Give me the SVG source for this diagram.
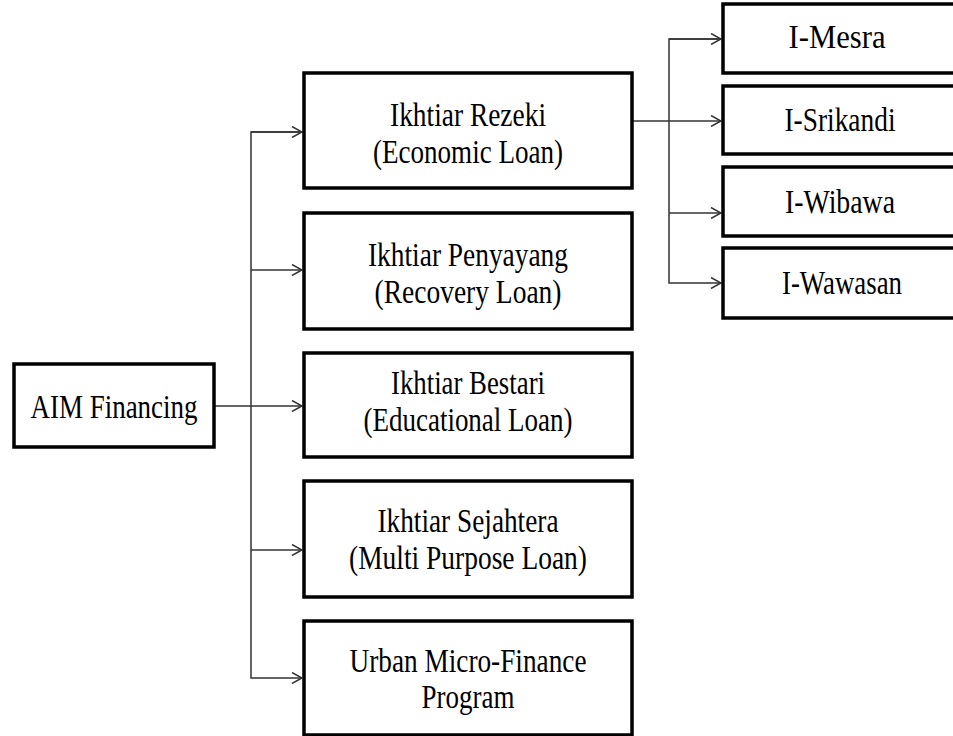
<svg xmlns="http://www.w3.org/2000/svg" width="953" height="736" viewBox="0 0 953 736">
<defs>
<style>
.box{fill:#fff;stroke:#000;stroke-width:3.5}
.lbl{font-family:"Liberation Serif","Times New Roman",serif;font-size:34px;fill:#000;text-anchor:middle}
.con{fill:none;stroke:#333;stroke-width:1.5}
</style>
<marker id="arr" viewBox="0 0 12 12" refX="11" refY="6" markerWidth="12" markerHeight="12" markerUnits="userSpaceOnUse" orient="auto">
<path d="M1,0.5 L11,6 L1,11.5" fill="none" stroke="#333" stroke-width="1.5"/>
</marker>
</defs>
<rect width="953" height="736" fill="#fff"/>
<g id="connectors">
<line class="con" x1="214" y1="406" x2="302" y2="406" marker-end="url(#arr)"/>
<polyline class="con" points="302,132 251,132 251,678 302,678" marker-end="url(#arr)"/>
<line class="con" x1="251" y1="132" x2="302" y2="132" marker-end="url(#arr)"/>
<line class="con" x1="251" y1="270" x2="302" y2="270" marker-end="url(#arr)"/>
<line class="con" x1="251" y1="550" x2="302" y2="550" marker-end="url(#arr)"/>
<line class="con" x1="633" y1="121" x2="721" y2="121" marker-end="url(#arr)"/>
<polyline class="con" points="721,39 669,39 669,283 721,283" marker-end="url(#arr)"/>
<line class="con" x1="669" y1="39" x2="721" y2="39" marker-end="url(#arr)"/>
<line class="con" x1="669" y1="213" x2="721" y2="213" marker-end="url(#arr)"/>
</g>
<g id="aim">
<rect class="box" x="14" y="364" width="200" height="83"/>
<text class="lbl" x="114" y="418" textLength="167" lengthAdjust="spacingAndGlyphs">AIM Financing</text>
</g>
<g id="rezeki">
<rect class="box" x="304" y="73" width="328" height="115"/>
<text class="lbl" x="468" y="126" textLength="156" lengthAdjust="spacingAndGlyphs">Ikhtiar Rezeki</text>
<text class="lbl" x="468" y="163" textLength="190" lengthAdjust="spacingAndGlyphs">(Economic Loan)</text>
</g>
<g id="penyayang">
<rect class="box" x="304" y="213" width="328" height="116"/>
<text class="lbl" x="468" y="266" textLength="200" lengthAdjust="spacingAndGlyphs">Ikhtiar Penyayang</text>
<text class="lbl" x="468" y="303" textLength="187" lengthAdjust="spacingAndGlyphs">(Recovery Loan)</text>
</g>
<g id="bestari">
<rect class="box" x="304" y="353" width="328" height="104"/>
<text class="lbl" x="468" y="394" textLength="154" lengthAdjust="spacingAndGlyphs">Ikhtiar Bestari</text>
<text class="lbl" x="468" y="431" textLength="209" lengthAdjust="spacingAndGlyphs">(Educational Loan)</text>
</g>
<g id="sejahtera">
<rect class="box" x="304" y="481" width="328" height="116"/>
<text class="lbl" x="468" y="532" textLength="181" lengthAdjust="spacingAndGlyphs">Ikhtiar Sejahtera</text>
<text class="lbl" x="468" y="569" textLength="238" lengthAdjust="spacingAndGlyphs">(Multi Purpose Loan)</text>
</g>
<g id="urban">
<rect class="box" x="304" y="621" width="328" height="114"/>
<text class="lbl" x="468" y="672" textLength="237" lengthAdjust="spacingAndGlyphs">Urban Micro-Finance</text>
<text class="lbl" x="468" y="708" textLength="93" lengthAdjust="spacingAndGlyphs">Program</text>
</g>
<g id="mesra">
<rect class="box" x="723" y="4" width="240" height="69"/>
<text class="lbl" x="837" y="48" textLength="97" lengthAdjust="spacingAndGlyphs">I-Mesra</text>
</g>
<g id="srikandi">
<rect class="box" x="723" y="86" width="240" height="68"/>
<text class="lbl" x="840" y="131" textLength="111" lengthAdjust="spacingAndGlyphs">I-Srikandi</text>
</g>
<g id="wibawa">
<rect class="box" x="723" y="167" width="240" height="69"/>
<text class="lbl" x="840" y="213" textLength="110" lengthAdjust="spacingAndGlyphs">I-Wibawa</text>
</g>
<g id="wawasan">
<rect class="box" x="723" y="248" width="240" height="70"/>
<text class="lbl" x="842" y="294" textLength="120" lengthAdjust="spacingAndGlyphs">I-Wawasan</text>
</g>
</svg>
